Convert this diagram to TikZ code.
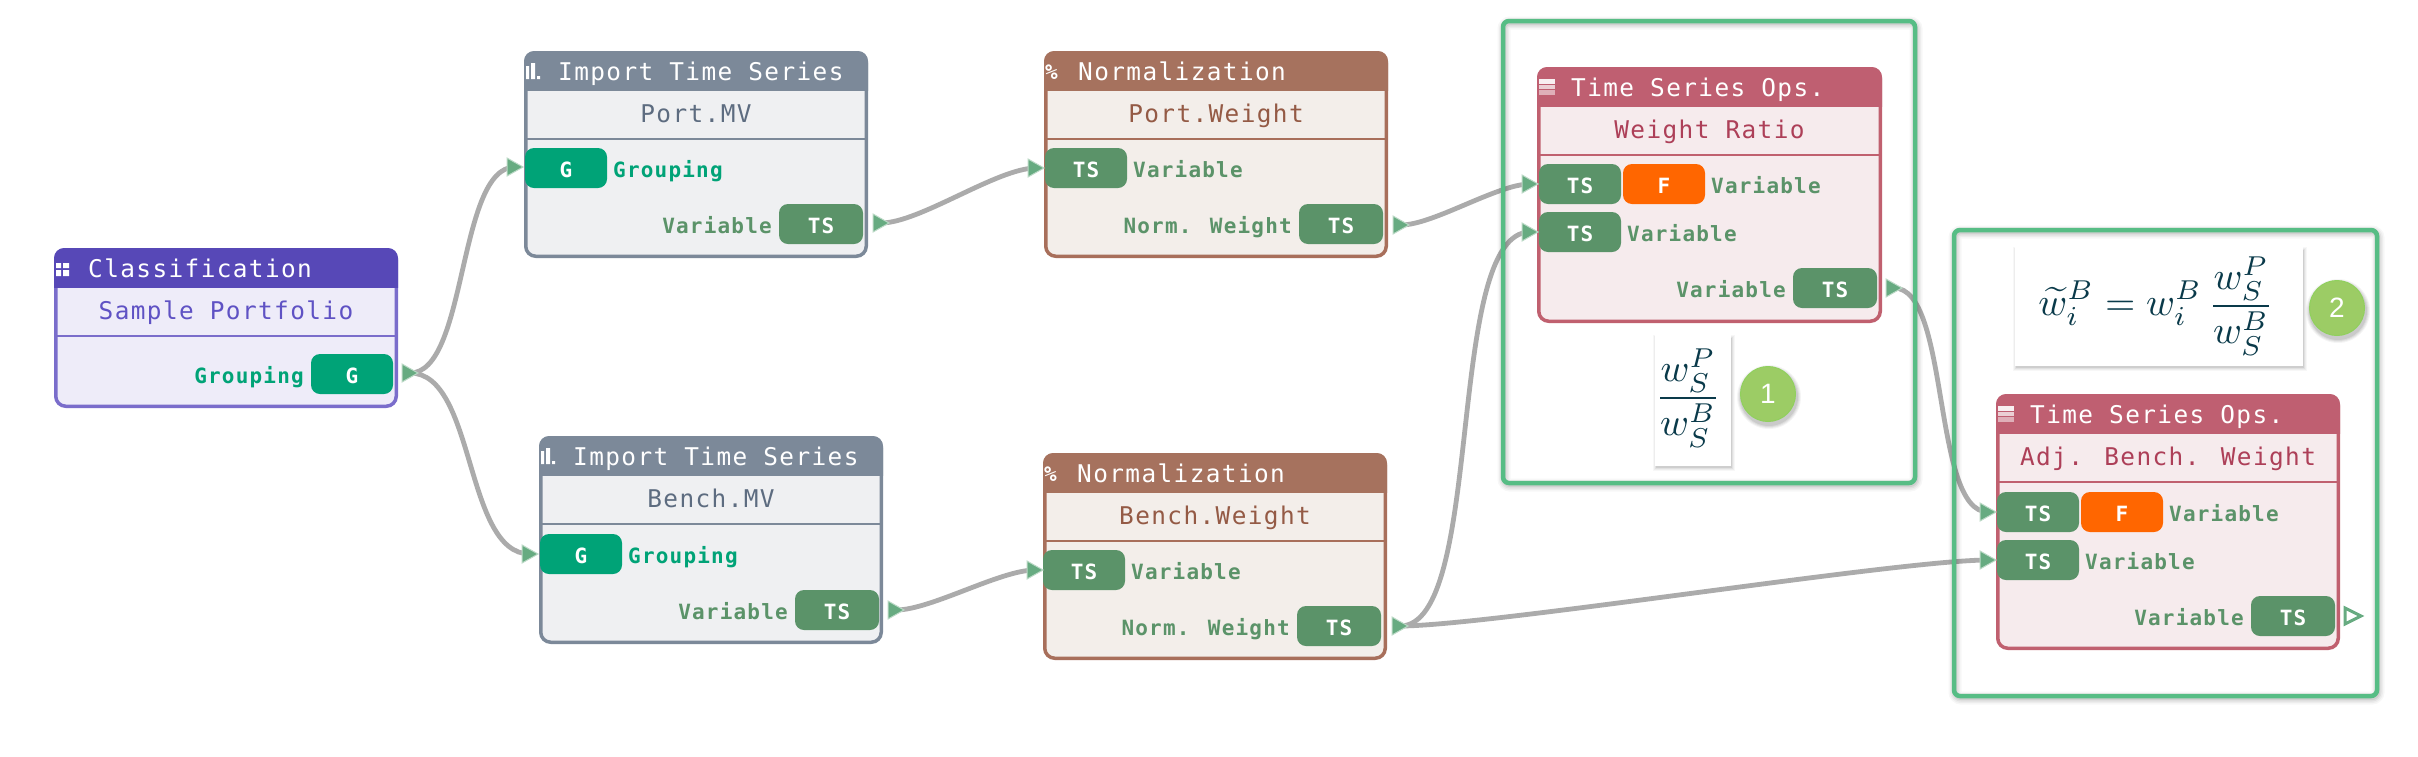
\documentclass[tikz,border=0pt]{standalone}
\usepackage{fontspec}
\usepackage{graphicx}
\usetikzlibrary{calc}
\newfontfamily\blockmono[LetterSpace=5.7]{DejaVu Sans Mono}
\newfontfamily\digitfont{Liberation Sans}
\definecolor{classhead}{HTML}{5748B7}\definecolor{classbody}{HTML}{EEECF9}\definecolor{classline}{HTML}{7A6DCB}\definecolor{classtext}{HTML}{5F52C4}
\definecolor{imphead}{HTML}{7C8999}\definecolor{impbody}{HTML}{EFF0F2}\definecolor{impline}{HTML}{7C8999}\definecolor{imptext}{HTML}{5D6C80}
\definecolor{normhead}{HTML}{A6725E}\definecolor{normbody}{HTML}{F3EEEA}\definecolor{normline}{HTML}{A86F5B}\definecolor{normtext}{HTML}{945A45}
\definecolor{opshead}{HTML}{BF5F71}\definecolor{opsbody}{HTML}{F6EBED}\definecolor{opsline}{HTML}{C0606F}\definecolor{opstext}{HTML}{AD3F58}
\definecolor{tscol}{HTML}{5B9369}\definecolor{gcol}{HTML}{00A377}\definecolor{fcol}{HTML}{FF6600}
\definecolor{flowcol}{HTML}{67AB81}\definecolor{edgecol}{HTML}{ABABAB}\definecolor{framecol}{HTML}{57BD85}
\definecolor{badgecol}{HTML}{9CCC65}\definecolor{mathcol}{HTML}{0A3A4A}
\tikzset{
  x=1pt,y=-1pt,
  titletext/.style={font=\blockmono\fontsize{24.4}{28}\selectfont,text=white,anchor=base west,inner sep=0pt},
  nametext/.style={font=\blockmono\fontsize{24.4}{28}\selectfont,anchor=base,inner sep=0pt},
  portbox/.style={anchor=north west,rounded corners=9pt,inner sep=0pt,outer sep=0pt,minimum height=40pt,text height=29pt,text depth=11pt,text=white,font=\blockmono\bfseries\fontsize{21}{24}\selectfont},
  portlabel/.style={inner sep=0pt,font=\blockmono\bfseries\fontsize{21}{24}\selectfont},
  edgeline/.style={draw=edgecol,line width=4.8pt},
  framebox/.style={draw=framecol,line width=4.5pt,rounded corners=6pt},
  mathbox/.style={fill=white,anchor=north west,inner sep=0pt,outer sep=0pt},
  badge/.style={circle,fill=badgecol,draw=badgecol!92!green,line width=1pt,minimum size=55pt,inner sep=0pt,text=white,font=\digitfont\fontsize{28}{30}\selectfont},
}
\newcommand{\nodeblock}[9]{%
  \node[draw=#6line,fill=#6body,line width=3.5pt,rounded corners=10pt,anchor=north west,inner sep=0pt,outer sep=0pt,minimum width=(#4-3.5)*1pt,minimum height=(#5-3.5)*1pt] (#1) at (#2+1.75,#3+1.75) {};
  \begin{scope}
    \clip (#2-1,#3-1) rectangle (#2+#4+1,#3+39);
    \fill[#6head,rounded corners=10pt] (#2,#3) rectangle (#2+#4,#3+60);
  \end{scope}
  \draw[#6line,line width=2.5pt] (#2+2,#3+88) -- (#2+#4-2,#3+88);
  \node[titletext] (#1-title) at (#2+34,#3+29) {#7};
  \node[nametext,text=#6text] (#1-name) at (#2+#4/2,#3+71) {#8};
  \begin{scope}[shift={(#2,#3)}]#9\end{scope}
}
\newcommand{\portpin}[6]{\node[portbox,fill=#5,minimum width=#4pt] (#1) at (#2,#3) {#6};}
\newcommand{\afterlabel}[4]{\node[portlabel,anchor=base west,text=#3] (#1) at ($(#2.north east)+(6,29)$) {#4};}
\newcommand{\beforelabel}[4]{\node[portlabel,anchor=base east,text=#3] (#1) at ($(#2.north west)+(-7,29)$) {#4};}
\newcommand{\flowarrow}[1]{\filldraw[fill=flowcol,draw=flowcol!45,line width=1pt] ($(#1)+(-8,-9)$) -- ($(#1)+(8,0)$) -- ($(#1)+(-8,9)$) -- cycle;}
\newcommand{\flowlink}[3]{\draw[edgeline] (#1) .. controls ($(#1)!#3!(#1 -| #2)$) and ($(#2)!#3!(#2 -| #1)$) .. (#2);}
\newcommand{\softframe}[4]{%
  \foreach \w/\o in {13/0.03,10/0.04,7/0.05,4/0.07}{\draw[black,opacity=\o,line width=\w pt,rounded corners=6pt] (#1+1,#2+2) rectangle (#3+1,#4+2);}
}
\newcommand{\softbox}[4]{%
  \foreach \w/\o in {3/0.03,2/0.04,1/0.05,0/0.08}{\fill[black,opacity=\o] (#1+1-\w,#2+3-\w) rectangle (#3+1+\w,#4+2+\w);}
}
\newcommand{\softdisc}[3]{%
  \foreach \w/\o in {4/0.04,3/0.05,2/0.06,1/0.07}{\fill[black,opacity=\o] (#1+1,#2+3) circle[radius=#3+\w];}
}
\newcommand{\iconclass}{\fill[white] (2,15) rectangle (7,20) (9,15) rectangle (15,20) (2,22) rectangle (7,28) (9,22) rectangle (15,28);}
\newcommand{\iconbars}{\fill[white] (2,15) rectangle (5,28) (7,12) rectangle (11,28) (13,25) rectangle (16,28);}
\newcommand{\iconops}{\fill[white,opacity=.9] (2,12) rectangle (18,16.5);\fill[white,opacity=.7] (2,17.5) rectangle (18,22);\fill[white,opacity=.5] (2,23) rectangle (18,27.5);}
\newcommand{\iconpct}{\node[inner sep=0pt,anchor=base west,text=white,font=\blockmono\bfseries\fontsize{21}{24}\selectfont] at (1,28) {\%};}
\begin{document}
\begin{tikzpicture}
\useasboundingbox (0,0) rectangle (2418,756);
\fill[white] (0,0) rectangle (2418,756);
% port end points
\coordinate (cout) at (410,373);
\coordinate (piin) at (515,167);
\coordinate (piout) at (881,223);
\coordinate (biin) at (530,554);
\coordinate (biout) at (896,610);
\coordinate (pnin) at (1036,168);
\coordinate (pnout) at (1401,225);
\coordinate (bnin) at (1035,570);
\coordinate (bnout) at (1400,626);
\coordinate (oain) at (1530,184);
\coordinate (oabin) at (1530,232);
\coordinate (oaout) at (1894,288);
\coordinate (obin) at (1988,512);
\coordinate (obbin) at (1988,560);
\coordinate (obout) at (2353,616);
% connectors
\flowlink{cout}{piin}{0.55}
\flowlink{cout}{biin}{0.55}
\flowlink{piout}{pnin}{0.25}
\flowlink{biout}{bnin}{0.25}
\flowlink{pnout}{oain}{0.25}
\flowlink{bnout}{oabin}{0.66}
\flowlink{bnout}{obbin}{0.15}
\flowlink{oaout}{obin}{0.6}
% frames
\softframe{1503}{21}{1915}{483}
\softframe{1954}{230}{2377}{696}
\draw[framebox] (1503,21) rectangle (1915,483);
\draw[framebox] (1954,230) rectangle (2377,696);
% blocks
\nodeblock{cl}{54}{248}{344}{160}{class}{Classification}{Sample Portfolio}{\iconclass}
\portpin{clg}{311}{354}{82}{gcol}{G}
\beforelabel{cll}{clg}{gcol}{Grouping}
\nodeblock{pi}{524}{51}{344}{207}{imp}{Import Time Series}{Port.MV}{\iconbars}
\portpin{pig}{525}{148}{82}{gcol}{G}
\afterlabel{pigl}{pig}{gcol}{Grouping}
\portpin{pit}{779}{204}{84}{tscol}{TS}
\beforelabel{pitl}{pit}{tscol}{Variable}
\nodeblock{bi}{539}{436}{344}{208}{imp}{Import Time Series}{Bench.MV}{\iconbars}
\portpin{big}{540}{534}{82}{gcol}{G}
\afterlabel{bigl}{big}{gcol}{Grouping}
\portpin{bit}{795}{590}{84}{tscol}{TS}
\beforelabel{bitl}{bit}{tscol}{Variable}
\nodeblock{pn}{1044}{51}{344}{207}{norm}{Normalization}{Port.Weight}{\iconpct}
\portpin{pnt}{1045}{148}{82}{tscol}{TS}
\afterlabel{pntl}{pnt}{tscol}{Variable}
\portpin{pno}{1299}{204}{84}{tscol}{TS}
\beforelabel{pnol}{pno}{tscol}{Norm. Weight}
\nodeblock{bn}{1043}{453}{344}{207}{norm}{Normalization}{Bench.Weight}{\iconpct}
\portpin{bnt}{1043}{550}{82}{tscol}{TS}
\afterlabel{bntl}{bnt}{tscol}{Variable}
\portpin{bno}{1297}{606}{84}{tscol}{TS}
\beforelabel{bnol}{bno}{tscol}{Norm. Weight}
\nodeblock{oa}{1537}{67}{345}{256}{ops}{Time Series Ops.}{Weight Ratio}{\iconops}
\portpin{oat}{1539}{164}{82}{tscol}{TS}
\portpin{oaf}{1623}{164}{82}{fcol}{F}
\afterlabel{oafl}{oaf}{tscol}{Variable}
\portpin{oab}{1539}{212}{82}{tscol}{TS}
\afterlabel{oabl}{oab}{tscol}{Variable}
\portpin{oao}{1793}{268}{84}{tscol}{TS}
\beforelabel{oaol}{oao}{tscol}{Variable}
\nodeblock{ob}{1996}{394}{344}{256}{ops}{Time Series Ops.}{Adj. Bench. Weight}{\iconops}
\portpin{obt}{1997}{492}{82}{tscol}{TS}
\portpin{obf}{2081}{492}{82}{fcol}{F}
\afterlabel{obfl}{obf}{tscol}{Variable}
\portpin{obb}{1997}{540}{82}{tscol}{TS}
\afterlabel{obbl}{obb}{tscol}{Variable}
\portpin{obo}{2251}{596}{84}{tscol}{TS}
\beforelabel{obol}{obo}{tscol}{Variable}
% arrow heads
\flowarrow{cout}\flowarrow{piin}\flowarrow{piout}\flowarrow{biin}\flowarrow{biout}
\flowarrow{pnin}\flowarrow{pnout}\flowarrow{bnin}\flowarrow{bnout}
\flowarrow{oain}\flowarrow{oabin}\flowarrow{oaout}\flowarrow{obin}\flowarrow{obbin}
\draw[flowcol,line width=3pt,fill=white] ($(obout)+(-8,-8)$) -- ($(obout)+(8,0)$) -- ($(obout)+(-8,8)$) -- cycle;
% formulas
\softbox{1655}{335}{1731}{466}
\node[mathbox,minimum width=76pt,minimum height=131pt] (fa) at (1655,335) {};
\node[inner sep=0pt,text=mathcol] (fat) at (1688,398) {\scalebox{3.9}{$\displaystyle\frac{w_S^P}{w_S^B}$}};
\softbox{2015}{247}{2303}{366}
\node[mathbox,minimum width=288pt,minimum height=119pt] (fb) at (2015,247) {};
\node[inner sep=0pt,text=mathcol] (fbt) at (2156,306) {\scalebox{3.9}{$\displaystyle\widetilde{w}_i^B = w_i^B\,\frac{w_S^P}{w_S^B}$}};
\softdisc{1768}{394}{28}
\node[badge] (ba) at (1768,394) {1};
\softdisc{2337}{308}{28}
\node[badge] (bb) at (2337,308) {2};
\end{tikzpicture}
\end{document}
